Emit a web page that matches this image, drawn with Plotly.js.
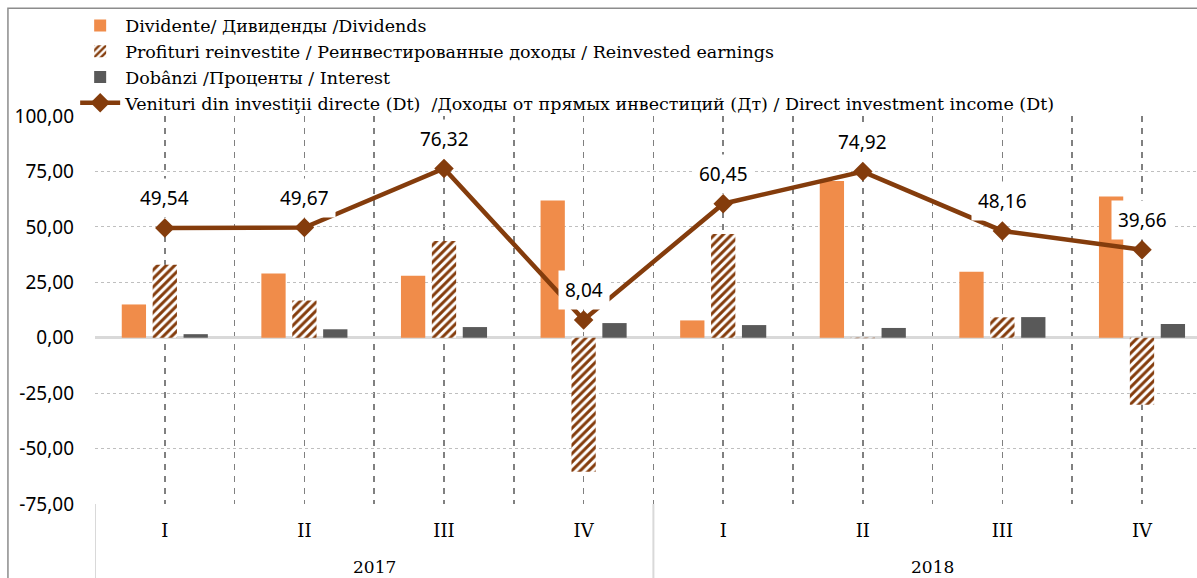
<!DOCTYPE html>
<html>
<head>
<meta charset="utf-8">
<script src="https://cdn.plot.ly/plotly-3.0.1.min.js"></script>
<style>html,body{margin:0;padding:0;background:#fff;}#chart{width:1197px;height:578px;}</style>
</head>
<body>
<div id="chart"></div>
<script>
// ---- data ----
var quarters = ['I', 'II', 'III', 'IV', 'I', 'II', 'III', 'IV'];
var years = ['2017', '2018'];
var dividends = [15.0, 29.0, 27.9, 61.9, 7.8, 70.7, 29.7, 63.7];
var reinvested = [32.9, 16.8, 43.6, -60.4, 46.8, -0.2, 9.2, -30.2];
var interest = [1.6, 3.8, 4.8, 6.6, 5.7, 4.4, 9.3, 6.2];
var income = [49.54, 49.67, 76.32, 8.04, 60.45, 74.92, 48.16, 39.66];
var yTickVals = [-75, -50, -25, 0, 25, 50, 75, 100];
var yTickText = ['-75,00', '-50,00', '-25,00', '0,00', '25,00', '50,00', '75,00', '100,00'];
var names = [
  'Dividente/ Дивиденды /Dividends',
  'Profituri reinvestite / Реинвестированные доходы / Reinvested earnings',
  'Dobânzi /Проценты / Interest',
  'Venituri din investiţii directe (Dt)  /Доходы от прямых инвестиций (Дт) / Direct investment income (Dt)'
];

var xIdx = quarters.map(function (q, i) { return i; });
var serif = 'DejaVu Serif';
var sans = 'Noto Sans';

var traces = [
  { type: 'bar', x: xIdx, y: dividends, name: names[0],
    marker: { color: '#F08C4A' }, hoverinfo: 'y' },
  { type: 'bar', x: xIdx, y: reinvested, name: names[1],
    marker: { color: '#ffffff', pattern: { shape: '/', fgcolor: '#843C0C', bgcolor: '#ffffff', size: 6, solidity: 0.5 } },
    hoverinfo: 'y' },
  { type: 'bar', x: xIdx, y: interest, name: names[2],
    marker: { color: '#595959' }, hoverinfo: 'y' },
  { type: 'scatter', mode: 'lines+markers', x: xIdx, y: income, name: names[3],
    line: { color: '#843C0C', width: 4.5 },
    marker: { symbol: 'diamond', size: 15, color: '#843C0C' }, hoverinfo: 'y' }
];

var annotations = income.map(function (v, i) {
  return {
    x: i, y: v, xref: 'x', yref: 'y', text: v.toFixed(2).replace('.', ','),
    showarrow: false, yshift: 30, bgcolor: '#ffffff', borderpad: 6,
    font: { family: sans, size: 19, color: '#000' }
  };
});
years.forEach(function (yr, k) {
  annotations.push({
    x: 1.5 + 4 * k, y: 0, xref: 'x', yref: 'paper', text: yr, showarrow: false,
    yanchor: 'middle', yshift: -63, font: { family: serif, size: 17, color: '#000' }
  });
});

var minorVals = [];
for (var i = 0; i <= quarters.length; i++) minorVals.push(i - 0.5);

var shapes = [
  { type: 'rect', xref: 'paper', yref: 'paper', x0: -0.079, x1: 1.1, y0: -0.6, y1: 1.278,
    line: { color: '#8c8c8c', width: 1.5 }, fillcolor: 'rgba(0,0,0,0)' }
];
[-0.5, 3.5].forEach(function (xv) {
  shapes.push({ type: 'line', xref: 'x', yref: 'paper', x0: xv, x1: xv, y0: 0, y1: -0.3,
    line: { color: '#d9d9d9', width: 2 } });
});

var layout = {
  width: 1197, height: 578,
  margin: { l: 95, r: 0, t: 116, b: 74 },
  paper_bgcolor: '#ffffff', plot_bgcolor: '#ffffff',
  barmode: 'group', bargap: 0.336, bargroupgap: 0.214,
  separators: ', ',
  showlegend: true,
  legend: {
    x: -0.018, y: 1.279, xanchor: 'left', yanchor: 'top', orientation: 'v',
    font: { family: serif, size: 17.5, color: '#000' }, tracegroupgap: 0,
    itemwidth: 40, bgcolor: 'rgba(0,0,0,0)'
  },
  xaxis: {
    type: 'linear', range: [-0.5, 7.394], fixedrange: true,
    tickmode: 'array', tickvals: xIdx, ticktext: quarters,
    showgrid: true, gridcolor: '#808080', gridwidth: 1.5, griddash: '6px,6px',
    minor: { tickmode: 'array', tickvals: minorVals, showgrid: true, gridcolor: '#808080', gridwidth: 1.5, griddash: '6px,6px' },
    zeroline: false, showline: false, ticks: '',
    ticklabelstandoff: 14,
    tickfont: { family: serif, size: 18, color: '#000' }
  },
  yaxis: {
    range: [-75, 100], fixedrange: true,
    tickmode: 'array', tickvals: yTickVals, ticktext: yTickText,
    showgrid: true, gridcolor: '#bfbfbf', gridwidth: 1, griddash: 'dot',
    zeroline: true, zerolinecolor: '#d9d9d9', zerolinewidth: 2.5,
    showline: false, ticks: '', ticklabelstandoff: 20,
    tickfont: { family: sans, size: 19, color: '#000' }
  },
  annotations: annotations,
  shapes: shapes
};

Plotly.newPlot('chart', traces, layout, { displayModeBar: false, staticPlot: true });
</script>
</body>
</html>
